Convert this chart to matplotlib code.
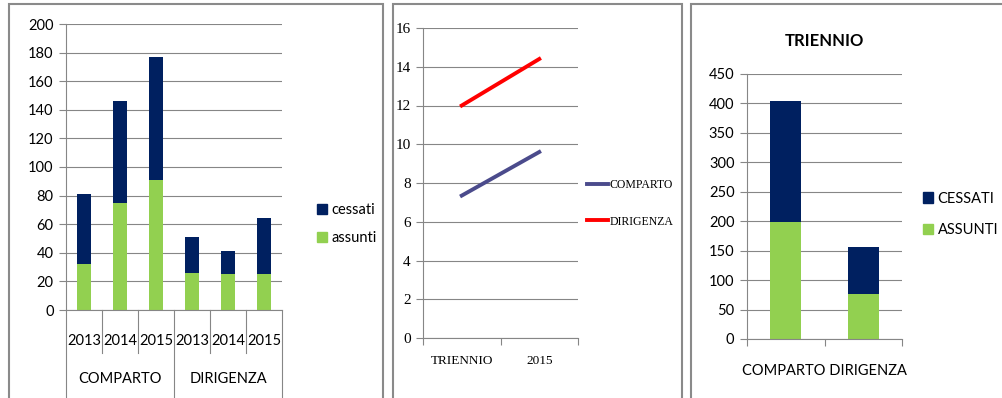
import matplotlib
matplotlib.use("Agg")
import matplotlib.pyplot as plt
from matplotlib.patches import Rectangle, Patch
import numpy as np

W, H = 1002, 398

# left chart: hires / leavers per year, grouped by staff category
groups = ["COMPARTO", "DIRIGENZA"]
years = ["2013", "2014", "2015"]
assunti = [32, 75, 91, 26, 25, 25]
cessati = [49, 71, 86, 25, 16, 39]

# middle chart: two series over two points
line_cats = ["TRIENNIO", "2015"]
comparto_line = [7.35, 9.6]
dirigenza_line = [12.0, 14.4]

# right chart: three-year totals
tri_cats = ["COMPARTO", "DIRIGENZA"]
tri_assunti = [sum(assunti[:3]), sum(assunti[3:])]
tri_cessati = [sum(cessati[:3]), sum(cessati[3:])]

NAVY = "#002060"
GREEN = "#92D050"
GRID = "#868686"
plt.rcParams["font.family"] = ["Lato", "DejaVu Sans"]
plt.rcParams["font.size"] = 10.5


def px_axes(fig, x0, x1, ytop, ybot):
    return fig.add_axes([x0 / W, 1 - ybot / H, (x1 - x0) / W, (ybot - ytop) / H])


def style(ax):
    for s in ["top", "right"]:
        ax.spines[s].set_visible(False)
    for s in ["left", "bottom"]:
        ax.spines[s].set_color(GRID)
        ax.spines[s].set_linewidth(0.8)
    ax.yaxis.grid(True, color=GRID, linewidth=0.8)
    ax.set_axisbelow(True)
    ax.tick_params(axis="y", length=5, color=GRID, width=0.8, pad=4)


fig = plt.figure(figsize=(W / 100, H / 100), dpi=100)

# panel frames
for x0, x1 in [(9, 383), (393, 682), (691, 1010)]:
    fig.patches.append(Rectangle((x0 / W, -0.05), (x1 - x0) / W, 1 - 4.5 / H + 0.05,
                                 transform=fig.transFigure, fill=False,
                                 edgecolor="#8a8a8a", linewidth=1.5))

# ---- left: stacked bars per year ----
ax1 = px_axes(fig, 66, 282, 24, 310)
style(ax1)
x = np.arange(len(assunti))
ax1.bar(x, assunti, width=0.39, color=GREEN)
ax1.bar(x, cessati, width=0.39, bottom=assunti, color=NAVY)
ax1.set_xlim(-0.5, 5.5)
ax1.set_ylim(0, 200)
ax1.set_yticks(range(0, 201, 20))
ax1.set_xticks(x)
ax1.set_xticklabels(years * 2)
ax1.tick_params(axis="x", length=0, pad=17)
tr = ax1.get_xaxis_transform()
for b in np.arange(-0.5, 6, 1):
    depth = -0.308 if b in (-0.5, 2.5, 5.5) else -0.15
    ax1.plot([b, b], [0, depth], transform=tr, color=GRID, lw=0.8, clip_on=False)
for i, g in enumerate(groups):
    ax1.text(1 + 3 * i, -0.24, g, transform=tr, ha="center", va="center")
ax1.legend(handles=[Patch(color=NAVY, label="cessati"), Patch(color=GREEN, label="assunti")],
           loc="center left", bbox_to_anchor=(1.1, 0.3), frameon=False,
           handlelength=0.7, handleheight=0.7, handletextpad=0.3, labelspacing=1.0)

# ---- middle: line chart ----
ax2 = px_axes(fig, 423, 578, 28, 338)
style(ax2)
serif = ["Liberation Serif", "DejaVu Serif"]
xl = np.arange(len(line_cats))
ax2.plot(xl, comparto_line, color="#4B4B8C", lw=2.8, label="COMPARTO")
ax2.plot(xl, dirigenza_line, color="#FF0000", lw=2.8, label="DIRIGENZA")
ax2.set_xlim(-0.5, 1.5)
ax2.set_ylim(0, 16)
ax2.set_yticks(range(0, 17, 2))
ax2.set_xticks([-0.5, 0.5, 1.5])
ax2.set_xticklabels([])
ax2.tick_params(axis="x", length=5, color=GRID, width=0.8)
for lab in ax2.get_yticklabels():
    lab.set_family(serif)
    lab.set_fontsize(11)
for i, c in enumerate(line_cats):
    ax2.text(i, -0.075, c, transform=ax2.get_xaxis_transform(), ha="center",
             va="center", family=serif, fontsize=9.5)
ax2.legend(loc="center left", bbox_to_anchor=(0.99, 0.435), frameon=False,
           prop={"family": serif, "size": 8.5}, handlelength=1.8,
           handletextpad=0.1, labelspacing=2.1)

# ---- right: three-year totals ----
ax3 = px_axes(fig, 747, 902, 74, 339)
style(ax3)
xt = np.arange(len(tri_cats))
ax3.bar(xt, tri_assunti, width=0.4, color=GREEN)
ax3.bar(xt, tri_cessati, width=0.4, bottom=tri_assunti, color=NAVY)
ax3.set_xlim(-0.5, 1.5)
ax3.set_ylim(0, 450)
ax3.set_yticks(range(0, 451, 50))
ax3.set_xticks([-0.5, 0.5, 1.5])
ax3.set_xticklabels([])
ax3.tick_params(axis="x", length=5, color=GRID, width=0.8)
ax3.text(0.5, -0.12, " ".join(tri_cats), transform=ax3.transAxes,
         ha="center", va="center")
ax3.set_title("TRIENNIO", fontweight="bold", fontsize=12, pad=20)
ax3.legend(handles=[Patch(color=NAVY, label="CESSATI"), Patch(color=GREEN, label="ASSUNTI")],
           loc="center left", bbox_to_anchor=(1.05, 0.47), frameon=False,
           handlelength=0.7, handleheight=0.7, handletextpad=0.3, labelspacing=1.2)

fig.savefig("out.png", dpi=100)
